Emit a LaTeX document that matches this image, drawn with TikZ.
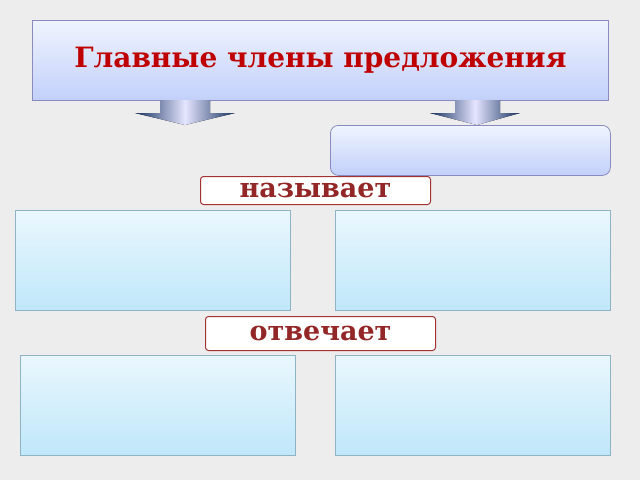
\documentclass[tikz,border=0pt]{standalone}
\usepackage{fontspec}
\setmainfont{DejaVu Serif}
\definecolor{cyt}{HTML}{EAF7FD}
\definecolor{cyb}{HTML}{BFE7FA}
\definecolor{lvt}{HTML}{F0F4FE}
\definecolor{lvb}{HTML}{C2D0FA}
\definecolor{navy}{HTML}{14305E}
\begin{document}
\begin{tikzpicture}[x=1pt,y=-1pt,
 cyanbox/.style={draw=cyan!35!gray!80,line width=1pt,top color=cyt,bottom color=cyb},
 lavbox/.style={draw=blue!30!gray!70,line width=0.8pt,top color=lvt,bottom color=lvb},
 tag/.style={draw=red!55!black!80,line width=1pt,fill=white,rounded corners=3pt,text=red!50!black!85,font=\bfseries\fontsize{27}{30}\selectfont},
 arr/.style={draw=none,left color=navy,right color=navy,middle color=blue!10!white}]
\fill[gray!14] (0,0) rectangle (640,480);
\useasboundingbox (0,0) rectangle (640,480);
\node[lavbox,minimum width=576,minimum height=80,anchor=north west,
 font=\bfseries\fontsize{28}{32}\selectfont,text=red!75!black] (title) at (32,20) {Главные члены предложения};
\node[lavbox,rounded corners=8pt,minimum width=280,minimum height=50,anchor=north west] (rb) at (330,125) {};
\fill[arr] (160,100) -- (210,100) -- (210,113) -- (235,113) -- (185,125) -- (135,113) -- (160,113) -- cycle;
\fill[arr] (455,100) -- (500,100) -- (500,113) -- (520,113) -- (477,125) -- (430,113) -- (455,113) -- cycle;
\node[tag,minimum width=230,minimum height=28,anchor=north west,inner sep=0pt] (t1) at (200,176) {называет};
\node[cyanbox,minimum width=275,minimum height=100,anchor=north west] (b1) at (15,210) {};
\node[cyanbox,minimum width=275,minimum height=100,anchor=north west] (b2) at (335,210) {};
\node[tag,minimum width=230,minimum height=34,anchor=north west,inner sep=0pt] (t2) at (205,316) {отвечает};
\node[cyanbox,minimum width=275,minimum height=100,anchor=north west] (b3) at (20,355) {};
\node[cyanbox,minimum width=275,minimum height=100,anchor=north west] (b4) at (335,355) {};
\end{tikzpicture}
\end{document}
